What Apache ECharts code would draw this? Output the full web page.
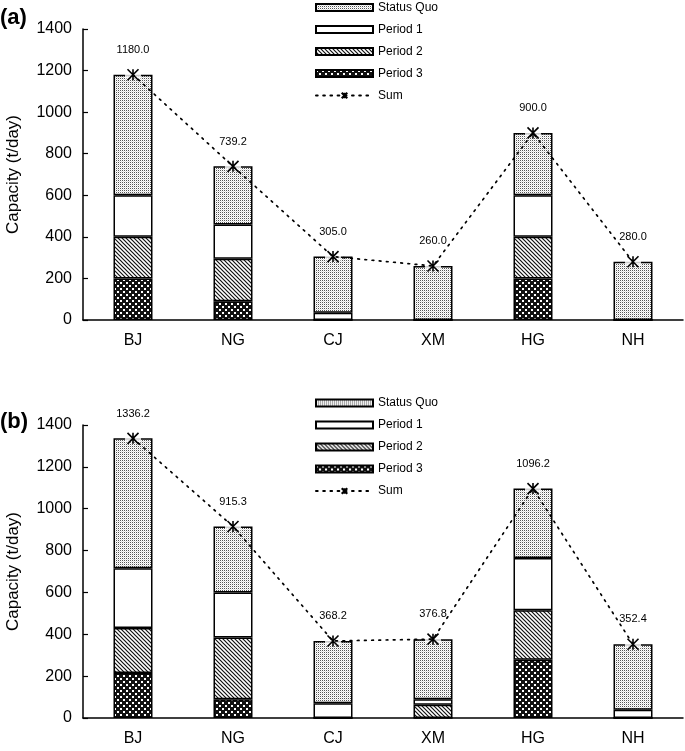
<!DOCTYPE html>
<html>
<head>
<meta charset="utf-8">
<script src="https://cdn.jsdelivr.net/npm/echarts@6/dist/echarts.min.js"></script>
<style>
html,body{margin:0;padding:0;background:#fff;}
#chart{width:685px;height:751px;}
</style>
</head>
<body>
<div id="chart"></div>
<script>
// ---------- data ----------
const categories = ['BJ', 'NG', 'CJ', 'XM', 'HG', 'NH'];
const yTicks = [0, 200, 400, 600, 800, 1000, 1200, 1400];

// (a)
const a_statusQuo = [580, 279.2, 270, 260, 300, 280];
const a_period1   = [200, 165, 35, 0, 200, 0];
const a_period2   = [200, 205, 0, 0, 200, 0];
const a_period3   = [200, 90, 0, 0, 200, 0];
const a_sum       = [1180.0, 739.2, 305.0, 260.0, 900.0, 280.0];

// (b)
const b_statusQuo = [620.2, 315.3, 298.2, 286.8, 331.2, 312.4];
const b_period1   = [286, 215, 70, 27, 250, 40];
const b_period2   = [215, 295, 0, 63, 237, 0];
const b_period3   = [215, 90, 0, 0, 278, 0];
const b_sum       = [1336.2, 915.3, 368.2, 376.8, 1096.2, 352.4];

const legendNames = ['Status Quo', 'Period 1', 'Period 2', 'Period 3', 'Sum'];

// ---------- patterns ----------
function mk(w, h, draw) {
  const c = document.createElement('canvas');
  c.width = w; c.height = h;
  const g = c.getContext('2d');
  draw(g);
  return { image: c, repeat: 'repeat' };
}
const patDots = mk(2, 2, g => {
  g.fillStyle = '#fff'; g.fillRect(0, 0, 2, 2);
  g.fillStyle = '#555'; g.fillRect(0, 0, 1, 1);
  g.fillStyle = '#ddd'; g.fillRect(1, 1, 1, 1);
});
const patDiag = mk(4, 4, g => {
  g.fillStyle = '#fff'; g.fillRect(0, 0, 4, 4);
  g.strokeStyle = '#111'; g.lineWidth = 1.2;
  g.beginPath();
  g.moveTo(-1, -1); g.lineTo(5, 5);
  g.moveTo(-1, 3); g.lineTo(1, 5);
  g.moveTo(3, -1); g.lineTo(5, 1);
  g.stroke();
});
const patChecker = mk(6, 6, g => {
  g.fillStyle = '#111'; g.fillRect(0, 0, 6, 6);
  g.fillStyle = '#fff';
  g.fillRect(0, 0, 2, 2);
  g.fillRect(3, 3, 2, 2);
});

const font = 'Liberation Sans, Arial, sans-serif';
const starPath = 'path://M0,0L10,10M10,0L0,10M5,0L5,10';

function barSeries(name, data, idx, fill) {
  return {
    name, type: 'bar', stack: 's' + idx, data,
    xAxisIndex: idx, yAxisIndex: idx,
    barWidth: 39,
    itemStyle: { color: fill, borderColor: '#000', borderWidth: 1.5 },
    emphasis: { disabled: true }
  };
}
function haloSeries(data, idx) {
  return {
    type: 'scatter', data, xAxisIndex: idx, yAxisIndex: idx,
    symbol: 'rect', symbolSize: [16, 8], z: 3, silent: true,
    itemStyle: { color: '#fff' }
  };
}
function sumSeries(data, idx) {
  return {
    name: 'Sum', type: 'line', data, xAxisIndex: idx, yAxisIndex: idx,
    z: 4,
    symbol: starPath, symbolSize: 11, showAllSymbol: true,
    itemStyle: { color: '#000', borderColor: '#000', borderWidth: 1.6 },
    lineStyle: { color: '#000', width: 1.7, type: [1.7, 5.5], cap: 'round' },
    label: {
      show: true, position: 'top', distance: 13,
      fontFamily: font, fontSize: 11, color: '#000',
      formatter: p => p.value.toFixed(1)
    },
    emphasis: { disabled: true }
  };
}

function xAxis(idx) {
  return {
    type: 'category', gridIndex: idx, data: categories,
    axisLine: { lineStyle: { color: '#000', width: 1.5 } },
    axisTick: { inside: true, length: 5, lineStyle: { color: '#000', width: 1.2 } },
    axisLabel: { fontFamily: font, fontSize: 16, color: '#000', margin: 13 },
    splitLine: { show: false }
  };
}
function yAxis(idx) {
  return {
    type: 'value', gridIndex: idx, min: 0, max: 1400, interval: 200,
    name: 'Capacity (t/day)', nameLocation: 'middle', nameGap: 61,
    nameTextStyle: { fontFamily: font, fontSize: 17, color: '#000' },
    axisLine: { show: true, lineStyle: { color: '#000', width: 1.5 } },
    axisTick: { show: true, inside: true, length: 5, lineStyle: { color: '#000', width: 1.2 } },
    axisLabel: { fontFamily: font, fontSize: 16, color: '#000', margin: 11, formatter: v => String(v) },
    splitLine: { show: false }
  };
}
function legend(top) {
  return {
    data: legendNames.map(n => n === 'Sum' ? { name: n } : { name: n, icon: 'rect' }),
    orient: 'vertical', left: 315, top, padding: 0,
    itemWidth: 57, itemHeight: 7, itemGap: 10, selectedMode: false,
    textStyle: { fontFamily: font, fontSize: 12, color: '#000' }
  };
}

const chart = echarts.init(document.getElementById('chart'), null, { renderer: 'canvas' });
chart.setOption({
  backgroundColor: '#fff',
  animation: false,
  title: [
    { text: '(a)', left: 0, top: 7, padding: 0, textStyle: { fontFamily: font, fontSize: 22, fontWeight: 'bold', color: '#000' } },
    { text: '(b)', left: 0, top: 411, padding: 0, textStyle: { fontFamily: font, fontSize: 22, fontWeight: 'bold', color: '#000' } }
  ],
  legend: [legend(1.5), legend(397)],
  grid: [
    { left: 83, right: 2, top: 29, height: 291, containLabel: false, outerBoundsMode: 'none' },
    { left: 83, right: 2, top: 425, height: 293, containLabel: false, outerBoundsMode: 'none' }
  ],
  xAxis: [xAxis(0), xAxis(1)],
  yAxis: [yAxis(0), yAxis(1)],
  series: [
    barSeries('Period 3', a_period3, 0, patChecker),
    barSeries('Period 2', a_period2, 0, patDiag),
    barSeries('Period 1', a_period1, 0, '#fff'),
    barSeries('Status Quo', a_statusQuo, 0, patDots),
    haloSeries(a_sum, 0),
    sumSeries(a_sum, 0),
    barSeries('Period 3', b_period3, 1, patChecker),
    barSeries('Period 2', b_period2, 1, patDiag),
    barSeries('Period 1', b_period1, 1, '#fff'),
    barSeries('Status Quo', b_statusQuo, 1, patDots),
    haloSeries(b_sum, 1),
    sumSeries(b_sum, 1)
  ]
});
</script>
</body>
</html>
